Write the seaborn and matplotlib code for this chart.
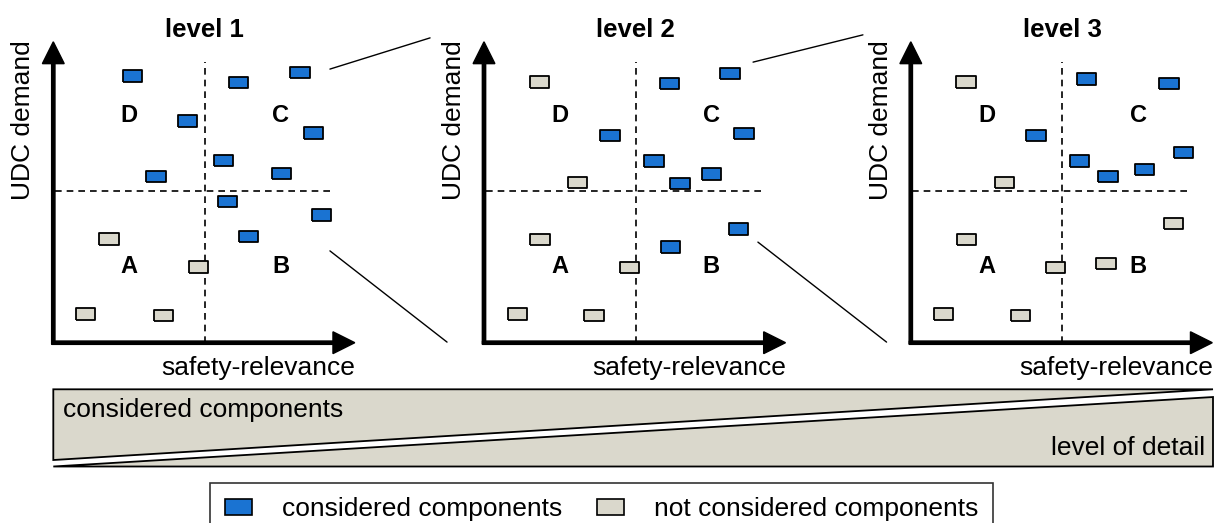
import pandas as pd
import matplotlib
matplotlib.use("Agg")
import matplotlib.pyplot as plt
import seaborn as sns
from matplotlib.patches import Polygon, Patch, ConnectionPatch

# Component positions per level (safety-relevance, UDC demand), state c = considered, n = not considered
level1_x = [2.60, 6.11, 8.14, 4.44, 8.59, 5.61, 7.53, 3.39, 5.74, 8.85, 6.45, 1.84, 4.79, 1.07, 3.63]
level1_y = [8.81, 8.59, 8.91, 7.31, 6.92, 6.01, 5.58, 5.48, 4.66, 4.21, 3.51, 3.43, 2.50, 0.95, 0.89]
level1_state = ["c", "c", "c", "c", "c", "c", "c", "c", "c", "c", "c", "n", "n", "n", "n"]

level2_x = [6.12, 8.12, 4.16, 8.58, 5.61, 7.52, 6.47, 8.40, 6.16, 1.83, 3.09, 1.85, 4.80, 1.10, 3.63]
level2_y = [8.56, 8.88, 6.83, 6.90, 5.99, 5.56, 5.26, 3.76, 3.16, 8.60, 5.28, 3.41, 2.49, 0.95, 0.89]
level2_state = ["c", "c", "c", "c", "c", "c", "c", "c", "c", "n", "n", "n", "n", "n", "n"]

level3_x = [5.80, 8.52, 4.13, 5.58, 6.51, 7.71, 8.99, 1.82, 3.09, 1.84, 4.77, 6.44, 8.66, 1.07, 3.61]
level3_y = [8.71, 8.56, 6.83, 5.99, 5.48, 5.72, 6.28, 8.60, 5.28, 3.41, 2.49, 2.62, 3.94, 0.95, 0.89]
level3_state = ["c", "c", "c", "c", "c", "c", "c", "n", "n", "n", "n", "n", "n", "n", "n"]

level_titles = ["level 1", "level 2", "level 3"]
quadrant_labels = ["A", "B", "C", "D"]
x_label = "safety-relevance"
y_label = "UDC demand"
band_top_text = "considered components"
band_bottom_text = "level of detail"
legend_labels = ["considered components", "not considered components"]

BLUE = "#1a73d2"
GREY = "#dad8cc"
W, H = 1216, 523

sns.set_style("white")
plt.rcParams["font.family"] = ["Liberation Sans", "DejaVu Sans"]
plt.rcParams["text.color"] = "black"

fig = plt.figure(figsize=(W / 100, H / 100), dpi=100)

# pixel origin of each panel, 30.3 px per data unit
origins = [53.3, 484.0, 910.8]
y0 = 342.7
unit = 30.3

rect = [(-1, -0.6), (1, -0.6), (1, 0.6), (-1, 0.6), (-1, -0.6)]
levels = [
    (level1_x, level1_y, level1_state),
    (level2_x, level2_y, level2_state),
    (level3_x, level3_y, level3_state),
]

axes = []
for i, (xs, ys, st) in enumerate(levels):
    ax = fig.add_axes([origins[i] / W, (H - y0) / H, 10 * unit / W, 10 * unit / H])
    ax.set_xlim(0, 10)
    ax.set_ylim(0, 10)
    ax.axis("off")

    # quadrant dividers
    ax.plot([5, 5], [0, 9.26], color="black", lw=1.2, ls=(0, (4, 3)), zorder=1)
    ax.plot([0.05, 9.23], [5, 5], color="black", lw=1.2, ls=(0, (4, 3)), zorder=1)

    # axes arrows
    ax.arrow(-0.05, 0, 10.0, 0, width=0.11, head_width=0.72, head_length=0.72,
             length_includes_head=True, color="black", clip_on=False, zorder=2)
    ax.arrow(0, -0.05, 0, 9.98, width=0.11, head_width=0.72, head_length=0.72,
             length_includes_head=True, color="black", clip_on=False, zorder=2)

    df = pd.DataFrame({"x": xs, "y": ys, "state": st})
    sns.scatterplot(data=df, x="x", y="y", hue="state", palette={"c": BLUE, "n": GREY},
                    marker=rect, s=190, edgecolor="black", linewidth=1.3,
                    legend=False, ax=ax, zorder=3, clip_on=False)
    ax.set_xlabel("")
    ax.set_ylabel("")
    ax.axis("off")

    for lab, (qx, qy) in zip(quadrant_labels, [(2.5, 2.5), (7.5, 2.5), (7.5, 7.5), (2.5, 7.5)]):
        ax.text(qx, qy, lab, ha="center", va="center", fontsize=17, fontweight="bold")

    ax.text(5, 10.32, level_titles[i], ha="center", va="center", fontsize=18.5, fontweight="bold")
    ax.text(-1.0, 7.35, y_label, rotation=90, ha="center", va="center", fontsize=19)
    ax.text(6.77, -0.83, x_label, ha="center", va="center", fontsize=19)
    axes.append(ax)

# zoom connectors between levels
links = [
    (0, (9.13, 9.03), 1, (-1.78, 10.06)),
    (0, (9.13, 3.03), 1, (-1.22, 0.02)),
    (1, (8.88, 9.26), 2, (-1.58, 10.16)),
    (1, (9.04, 3.32), 2, (-0.80, 0.02)),
]
for a, pa, b, pb in links:
    con = ConnectionPatch(xyA=pa, coordsA=axes[a].transData, xyB=pb, coordsB=axes[b].transData,
                          color="black", lw=1.0)
    fig.add_artist(con)

# band: considered components vs level of detail
bx0, bx1, by_top, by_bot = 53.3, 1213.0, 389.3, 466.5
bax = fig.add_axes([bx0 / W, (H - by_bot) / H, (bx1 - bx0) / W, (by_bot - by_top) / H])
bax.set_xlim(0, 1)
bax.set_ylim(0, 1)
bax.axis("off")
bax.add_patch(Polygon([(0, 1), (1, 1), (0, 0.084)], closed=True, facecolor=GREY,
                      edgecolor="black", lw=1.3, clip_on=False))
bax.add_patch(Polygon([(0, 0), (1, 0.90), (1, 0)], closed=True, facecolor=GREY,
                      edgecolor="black", lw=1.3, clip_on=False))
bax.text(0.0086, 0.645, band_top_text, ha="left", va="baseline", fontsize=19)
bax.text(0.993, 0.149, band_bottom_text, ha="right", va="baseline", fontsize=19)

handles = [Patch(facecolor=BLUE, edgecolor="black", lw=1.2),
           Patch(facecolor=GREY, edgecolor="black", lw=1.2)]
leg = fig.legend(handles, legend_labels, loc="upper left", bbox_to_anchor=(210 / W, 1 - 482.7 / H),
                 ncol=2, fontsize=19, frameon=True, fancybox=False, borderpad=0.55,
                 handlelength=1.03, handleheight=0.57, handletextpad=1.15, columnspacing=1.3,
                 borderaxespad=0)
leg.get_frame().set_edgecolor("black")
leg.get_frame().set_linewidth(1.2)
for t in leg.get_texts():
    t.set_color("black")

fig.savefig("out.png", dpi=100)
